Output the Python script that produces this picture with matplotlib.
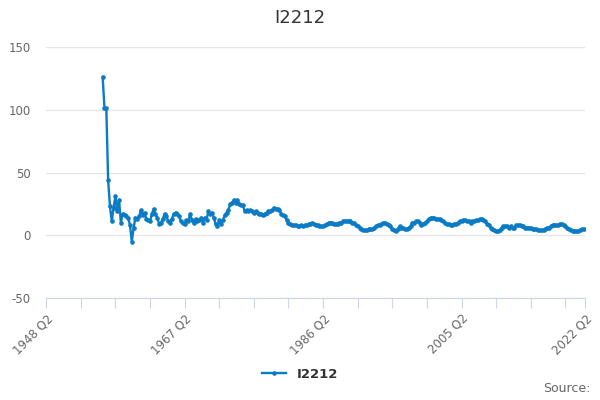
import matplotlib
matplotlib.use("Agg")
import matplotlib.pyplot as plt

plt.rcParams["axes.unicode_minus"] = False

# quarterly categories, 1948 Q2 .. 2022 Q2
first_year, first_q = 1948, 2
last_year, last_q = 2022, 2
quarters = []
y, q = first_year, first_q
while (y, q) <= (last_year, last_q):
    quarters.append(f"{y} Q{q}")
    q += 1
    if q > 4:
        y, q = y + 1, 1

series_start = "1956 Q1"

# values, grouped by decade
vals_1950s = [126, 101, 101, 44, 23, 11, 22, 31, 19, 28, 10, 17, 16, 15, 14, 8]
vals_1960s = [-5, 6, 14, 13, 15, 20, 16, 18, 13, 12, 11, 17, 21, 17, 14, 9, 10, 13, 17, 15,
              11, 10, 13, 17, 18, 17, 15, 11, 10, 9, 12, 11, 17, 12, 10, 13, 11, 12, 14, 10]
vals_1970s = [14, 12, 19, 17, 18, 14, 9, 7, 12, 9, 12, 16, 18, 20, 25, 26, 28, 26, 28, 25,
              24, 24, 19, 20, 19, 20, 19, 18, 19, 18, 17, 17, 16, 17, 18, 19, 19, 20, 22, 21]
vals_1980s = [21, 20, 17, 16, 15, 12, 10, 9, 8, 8, 8, 7, 7, 8, 7, 8, 8, 9, 9, 10,
              9, 8, 8, 7, 7, 7, 8, 9, 10, 10, 10, 9, 9, 9, 10, 10, 11, 11, 11, 11]
vals_1990s = [11, 10, 10, 8, 7, 6, 5, 4, 4, 4, 5, 5, 5, 6, 7, 8, 8, 9, 10, 10,
              9, 8, 7, 5, 4, 3.5, 5, 7, 6, 6, 5, 5, 6, 7, 10, 10, 11, 11, 10, 8]
vals_2000s = [9, 10, 11, 13, 14, 14, 14, 13, 13, 13, 12, 11, 10, 9, 9, 8, 8, 9, 9, 10,
              11, 11, 12, 12, 11, 11, 10, 11, 11, 12, 12, 13, 13, 12, 11, 9, 8, 6, 5, 4]
vals_2010s = [3, 3, 4, 6, 7, 7, 7, 6, 7, 6, 6, 8, 8, 8, 7, 7, 6, 6, 6, 6,
              5, 5, 5, 4, 4, 4, 4, 5, 6, 6, 7, 8, 8, 8, 8, 9, 9, 8, 7, 6,
              5, 4, 3, 3, 3, 3, 4, 5, 5]

values = vals_1950s + vals_1960s + vals_1970s + vals_1980s + vals_1990s + vals_2000s + vals_2010s
start = quarters.index(series_start)
xs = list(range(start, start + len(values)))

line_color = "#0a7bc4"
grid_color = "#e6e6e6"
axis_color = "#ccd6eb"
label_color = "#666666"

fig = plt.figure(figsize=(6, 4), dpi=100)
ax = fig.add_axes([46.2 / 600, 1 - 298 / 400, (585.4 - 46.2) / 600, (298 - 47) / 400])

ax.plot(xs, values, color=line_color, lw=1.7, marker="o", ms=2.3, label="I2212")

ax.set_xlim(0, len(quarters) - 1)
ax.set_ylim(-50, 150)
ax.set_yticks([-50, 0, 50, 100, 150])
ax.grid(axis="y", color=grid_color, lw=1)
ax.set_axisbelow(True)

ticks = list(range(0, len(quarters) - 1, 19)) + [len(quarters) - 1]
ax.set_xticks(ticks)
ax.set_xticklabels([quarters[t] if t % 76 == 0 or t == len(quarters) - 1 else "" for t in ticks],
                   rotation=45, ha="right", rotation_mode="anchor")

for s in ["top", "right", "left"]:
    ax.spines[s].set_visible(False)
ax.spines["bottom"].set_color(axis_color)
ax.tick_params(axis="x", length=7, width=0.8, color=axis_color, labelcolor=label_color,
               labelsize=8.5, pad=3)
ax.tick_params(axis="y", length=0, labelcolor=label_color, labelsize=8.5, pad=11)

fig.text(0.5, 1 - 18 / 400, "I2212", ha="center", va="center", fontsize=13, color="#333333")
leg = fig.legend(loc="center", bbox_to_anchor=(0.5, 1 - 374 / 400), frameon=False,
                 handlelength=1.8, prop={"weight": "bold", "size": 9.5})
for t in leg.get_texts():
    t.set_color("#333333")
fig.text(0.985, 1 - 388 / 400, "Source:", ha="right", va="center", fontsize=9, color=label_color)

fig.savefig("out.png", dpi=100)
